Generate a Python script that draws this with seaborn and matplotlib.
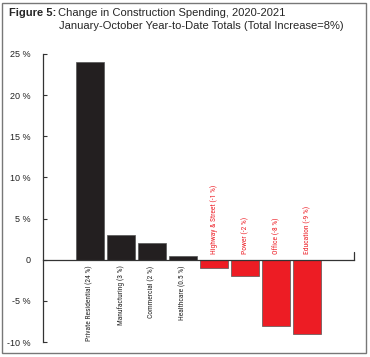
import matplotlib
matplotlib.use("Agg")
import matplotlib.pyplot as plt
import seaborn as sns
import pandas as pd
from matplotlib import font_manager
from matplotlib.font_manager import FontProperties
from matplotlib.patches import Rectangle

categories = ["Private Residential (24 %)", "Manufacturing (3 %)", "Commercial (2 %)",
              "Healthcare (0.5 %)", "Highway & Street (-1 %)", "Power (-2 %)",
              "Office (-8 %)", "Education (-9 %)"]
values = [24, 3, 2, 0.5, -1, -2, -8, -9]
yticks = [-10, -5, 0, 5, 10, 15, 20, 25]
ytick_labels = ["-10 %", "-5 %", "0", "5 %", "10 %", "15 %", "20 %", "25 %"]

BLACK = "#231f20"
RED = "#ed1c24"

sns.set_theme(style="white")
plt.rcParams["font.family"] = ["Liberation Sans", "DejaVu Sans"]

# condensed face for the category labels, if one is around
narrow_file = None
for key in ["RobotoCondensed-Regular", "LiberationSansNarrow-Regular", "DejaVuSansCondensed.ttf"]:
    hits = [f.fname for f in font_manager.fontManager.ttflist if key in f.fname]
    if hits:
        narrow_file = sorted(hits)[0]
        break
if narrow_file:
    label_fp = FontProperties(fname=narrow_file, size=5.4)
else:
    label_fp = FontProperties(family="Liberation Sans", size=4.6)

df = pd.DataFrame({"cat": categories, "val": values})
colors = [BLACK if v > 0 else RED for v in values]

fig = plt.figure(figsize=(3.7, 3.57), dpi=100)
ax = fig.add_axes([0.116, 0.042, 0.841, 0.807])

sns.barplot(data=df, x="cat", y="val", hue="cat", palette=colors, legend=False,
            width=0.9, edgecolor="#555555", linewidth=0.5, saturation=1, ax=ax)

ax.set_xlim(-1.5, 8.5)
ax.set_ylim(-10, 25)
ax.set_yticks(yticks)
ax.set_yticklabels(ytick_labels, fontsize=6.5, color="#222222")
ax.tick_params(axis="y", direction="in", length=3, width=0.8, color="#333333", pad=9, left=True)
ax.set_xticks([])
ax.set_xlabel("")
ax.set_ylabel("")

for s in ["top", "right"]:
    ax.spines[s].set_visible(False)
ax.spines["left"].set_color("#333333")
ax.spines["left"].set_linewidth(0.9)
ax.spines["bottom"].set_position(("data", 0))
ax.spines["bottom"].set_color("#333333")
ax.spines["bottom"].set_linewidth(0.9)
# small end mark on the zero line
ax.plot([8.5, 8.5], [0, 0.9], color="#333333", lw=0.9, clip_on=False)

# category labels: gains below the zero line, losses above it
for i, (c, v) in enumerate(zip(categories, values)):
    if v > 0:
        ax.text(i, -0.7, c, rotation=90, ha="center", va="top",
                fontproperties=label_fp, color="#222222")
    else:
        ax.text(i, 0.7, c, rotation=90, ha="center", va="bottom",
                fontproperties=label_fp, color=RED)

# title
fig.text(0.025, 0.963, "Figure 5:", fontsize=8, fontweight="bold", va="center")
fig.text(0.157, 0.963, "Change in Construction Spending, 2020-2021", fontsize=8, va="center")
fig.text(0.159, 0.927, "January-October Year-to-Date Totals (Total Increase=8%)", fontsize=8, va="center")

# frame around the figure
fig.patches.append(Rectangle((0.006, 0.012), 0.983, 0.98, transform=fig.transFigure,
                             fill=False, edgecolor="#777777", lw=1))

fig.savefig("out.png", dpi=100)
